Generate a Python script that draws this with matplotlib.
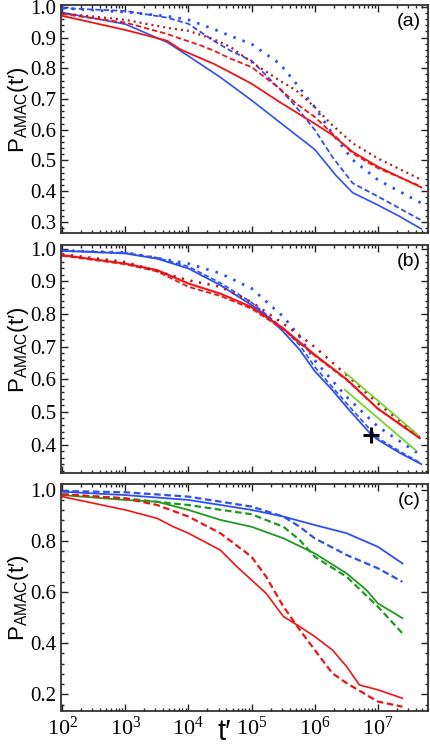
import numpy as np
import matplotlib
matplotlib.use("Agg")
import matplotlib.pyplot as plt
from matplotlib.ticker import MultipleLocator, FormatStrFormatter, LogLocator, NullFormatter

plt.rcParams['mathtext.fontset'] = 'custom'
plt.rcParams['mathtext.rm'] = 'Liberation Serif'
plt.rcParams['mathtext.sf'] = 'Liberation Sans'
plt.rcParams['mathtext.it'] = 'Liberation Serif:italic'

BLUE = '#2f50f0'
RED = '#f01515'
DKRED = '#b51a1a'
LIME = '#6ad61c'
GREEN = '#1f9a1f'

# ---- panel (a) ----
a_blue_solid_t = [1e2, 1e3, 4.6e3, 1e4, 3.2e4, 1e5, 3.2e5, 1e6, 2.2e6, 4e6, 1e7, 2.2e7, 4.9e7]
a_blue_solid_p = [0.982, 0.944, 0.885, 0.840, 0.771, 0.696, 0.615, 0.536, 0.450, 0.395, 0.355, 0.318, 0.277]
a_blue_dash_t = [1e2, 1e3, 4.6e3, 1e4, 2.5e4, 4.6e4, 1e5, 3.2e5, 5.1e5, 1e6, 1.9e6, 4e6, 1e7, 4.9e7]
a_blue_dash_p = [0.996, 0.987, 0.965, 0.945, 0.890, 0.858, 0.825, 0.720, 0.674, 0.600, 0.512, 0.426, 0.383, 0.305]
a_blue_dot_t = [1e2, 1e3, 4.6e3, 1e4, 2.5e4, 4.6e4, 1e5, 2.8e5, 5.1e5, 1e6, 1.9e6, 4e6, 1e7, 4.9e7]
a_blue_dot_p = [0.996, 0.983, 0.970, 0.958, 0.928, 0.906, 0.879, 0.815, 0.750, 0.674, 0.588, 0.502, 0.437, 0.361]
a_red_solid_t = [1e2, 1e3, 4.6e3, 7.4e3, 1e4, 2.5e4, 4.6e4, 1e5, 2.8e5, 1e6, 1.9e6, 4e6, 1e7, 4.9e7]
a_red_solid_p = [0.971, 0.925, 0.890, 0.862, 0.850, 0.815, 0.787, 0.750, 0.690, 0.620, 0.583, 0.528, 0.480, 0.412]
a_red_dash_t = [1e2, 1e3, 4.6e3, 7.4e3, 1.5e4, 2.5e4, 4.6e4, 1e5, 2.8e5, 5.1e5, 1e6, 1.9e6, 4e6, 1e7, 4.9e7]
a_red_dash_p = [0.977, 0.949, 0.912, 0.897, 0.876, 0.858, 0.832, 0.804, 0.734, 0.685, 0.642, 0.588, 0.523, 0.475, 0.415]
a_red_dot_t = [1e2, 1e3, 4.6e3, 1e4, 2.5e4, 4.6e4, 1e5, 2.8e5, 5.1e5, 1e6, 1.9e6, 4e6, 1e7, 4.9e7]
a_red_dot_p = [0.979, 0.958, 0.932, 0.922, 0.895, 0.870, 0.820, 0.760, 0.728, 0.674, 0.615, 0.556, 0.507, 0.437]

# ---- panel (b) ----
b_blue_solid_t = [1e2, 1e3, 3.2e3, 1e4, 3.2e4, 1e5, 1.7e5, 3.2e5, 5.8e5, 1e6, 1.9e6, 3.2e6, 7.9e6, 1e7, 2.2e7, 4.9e7]
b_blue_solid_p = [0.993, 0.985, 0.969, 0.939, 0.888, 0.827, 0.796, 0.745, 0.690, 0.625, 0.567, 0.515, 0.430, 0.415, 0.375, 0.340]
b_blue_dash_t = [1e2, 1e3, 3.2e3, 1e4, 3.2e4, 1e5, 3.2e5, 5.8e5, 1e6, 3.2e6, 1e7, 2.2e7, 4.9e7]
b_blue_dash_p = [0.994, 0.987, 0.972, 0.945, 0.895, 0.835, 0.755, 0.704, 0.638, 0.526, 0.420, 0.380, 0.342]
b_blue_dot_t = [1e2, 1e3, 1e4, 3.2e4, 1e5, 3.2e5, 5.8e5, 1e6, 3.2e6, 1e7, 4.2e7]
b_blue_dot_p = [0.994, 0.988, 0.954, 0.924, 0.878, 0.791, 0.730, 0.658, 0.546, 0.455, 0.375]
b_red_solid_t = [1e2, 1e3, 3.2e3, 1e4, 3.2e4, 1e5, 3.2e5, 1e6, 3.2e6, 1e7, 4.6e7]
b_red_solid_p = [0.980, 0.954, 0.934, 0.893, 0.862, 0.821, 0.755, 0.675, 0.600, 0.510, 0.420]
b_red_dash_t = [1e2, 1e3, 3.2e3, 1e4, 3.2e4, 1e5, 3.2e5, 1e6, 3.2e6, 1e7, 4.6e7]
b_red_dash_p = [0.978, 0.952, 0.930, 0.883, 0.855, 0.816, 0.752, 0.672, 0.598, 0.510, 0.420]
b_red_dot_t = [1e2, 1e3, 1e4, 3.2e4, 1e5, 3.2e5, 1e6, 3.2e6, 1e7, 4.6e7]
b_red_dot_p = [0.983, 0.959, 0.903, 0.883, 0.836, 0.770, 0.699, 0.613, 0.526, 0.424]
b_fit_upper_t = [3.0e6, 4.35e7]
b_fit_upper_p = [0.621, 0.429]
b_fit_lower_t = [3.0e6, 4.0e7]
b_fit_lower_p = [0.568, 0.382]
b_cross_t = [7.9e6]
b_cross_p = [0.430]

# ---- panel (c) ----
c_blue_solid_t = [1e2, 1e3, 1e4, 1e5, 3.2e5, 1e6, 3.2e6, 1e7, 2.45e7]
c_blue_solid_p = [0.992, 0.979, 0.960, 0.921, 0.895, 0.862, 0.830, 0.777, 0.712]
c_blue_dash_t = [1e2, 1e3, 1e4, 1e5, 3.2e5, 5.8e5, 1e6, 3.2e6, 1e7, 2.45e7]
c_blue_dash_p = [0.995, 0.990, 0.973, 0.934, 0.895, 0.855, 0.810, 0.745, 0.693, 0.640]
c_green_solid_t = [1e2, 1e3, 3.2e3, 1e4, 3.2e4, 1e5, 3.2e5, 1e6, 3.2e6, 6.6e6, 1e7, 2.45e7]
c_green_solid_p = [0.979, 0.960, 0.953, 0.921, 0.882, 0.855, 0.810, 0.751, 0.673, 0.608, 0.556, 0.498]
c_green_dash_t = [1e2, 1e3, 1e4, 1e5, 3.2e5, 5.8e5, 1e6, 3.2e6, 1e7, 2.45e7]
c_green_dash_p = [0.982, 0.966, 0.940, 0.904, 0.855, 0.803, 0.738, 0.660, 0.543, 0.439]
c_red_solid_t = [1e2, 1e3, 3.2e3, 5.8e3, 1e4, 3.2e4, 5.8e4, 1e5, 1.7e5, 3.2e5, 5.8e5, 1e6,
                 1.9e6, 3.2e6, 5.1e6, 1e7, 2.45e7]
c_red_solid_p = [0.973, 0.921, 0.888, 0.855, 0.830, 0.764, 0.700, 0.647, 0.595, 0.504, 0.465, 0.426,
                 0.374, 0.309, 0.237, 0.218, 0.185]
c_red_dash_t = [1e2, 1e3, 3.2e3, 1e4, 3.2e4, 1e5, 1.7e5, 3.2e5, 5.8e5, 1e6, 1.9e6, 3.2e6, 1e7, 2.45e7]
c_red_dash_p = [0.982, 0.966, 0.940, 0.895, 0.830, 0.738, 0.660, 0.543, 0.452, 0.374, 0.283, 0.244, 0.172, 0.152]

DASH = (0, (3.0, 1.6))
DOT = (0, (0.9, 2.6))
SMALLDOT = (0, (0.9, 1.8))

fig = plt.figure(figsize=(4.30, 7.49), dpi=100)
left, width = 0.142, 0.853
ax_a = fig.add_axes([left, 0.689, width, 0.304])
ax_b = fig.add_axes([left, 0.3685, width, 0.304])
ax_c = fig.add_axes([left, 0.0507, width, 0.303])

# (a)
ax_a.plot(a_blue_solid_t, a_blue_solid_p, color=BLUE, lw=1.2)
ax_a.plot(a_blue_dash_t, a_blue_dash_p, color=BLUE, lw=1.3, ls=DASH)
ax_a.plot(a_blue_dot_t, a_blue_dot_p, color=BLUE, lw=2.0, ls=DOT)
ax_a.plot(a_red_solid_t, a_red_solid_p, color=RED, lw=1.3)
ax_a.plot(a_red_dash_t, a_red_dash_p, color=RED, lw=1.3, ls=DASH)
ax_a.plot(a_red_dot_t, a_red_dot_p, color=DKRED, lw=1.6, ls=SMALLDOT)

# (b)
ax_b.plot(b_blue_solid_t, b_blue_solid_p, color=BLUE, lw=1.3)
ax_b.plot(b_blue_dash_t, b_blue_dash_p, color=BLUE, lw=1.2, ls=DASH)
ax_b.plot(b_blue_dot_t, b_blue_dot_p, color=BLUE, lw=2.0, ls=DOT)
ax_b.plot(b_red_solid_t, b_red_solid_p, color=RED, lw=1.5)
ax_b.plot(b_red_dash_t, b_red_dash_p, color=RED, lw=1.3, ls=DASH)
ax_b.plot(b_red_dot_t, b_red_dot_p, color=DKRED, lw=1.8, ls=DOT)
ax_b.plot(b_fit_upper_t, b_fit_upper_p, color=LIME, lw=1.2)
ax_b.plot(b_fit_lower_t, b_fit_lower_p, color=LIME, lw=1.2)
ax_b.plot(b_cross_t, b_cross_p, marker='+', color='black', ms=12, mew=2.2, ls='none')

# (c)
ax_c.plot(c_blue_solid_t, c_blue_solid_p, color=BLUE, lw=1.3)
ax_c.plot(c_blue_dash_t, c_blue_dash_p, color=BLUE, lw=1.6, ls=DASH)
ax_c.plot(c_green_solid_t, c_green_solid_p, color=GREEN, lw=1.3)
ax_c.plot(c_green_dash_t, c_green_dash_p, color=GREEN, lw=1.6, ls=DASH)
ax_c.plot(c_red_solid_t, c_red_solid_p, color=RED, lw=1.2)
ax_c.plot(c_red_dash_t, c_red_dash_p, color=RED, lw=1.6, ls=DASH)

ylims = [(0.264, 1.0055), (0.313, 1.01), (0.135, 1.022)]
ymaj = [0.1, 0.1, 0.2]
tags = ['(a)', '(b)', '(c)']
lab_y = [0.54, 0.54, 0.5]
ylab = '$\\mathsf{P_{AMAC}(t\u2032)}$'
for ax, yl, step, tag, ly in zip([ax_a, ax_b, ax_c], ylims, ymaj, tags, lab_y):
    ax.set_xscale('log')
    ax.set_xlim(96, 6.2e7)
    ax.set_ylim(*yl)
    ax.yaxis.set_major_locator(MultipleLocator(step))
    ax.yaxis.set_minor_locator(MultipleLocator(step / 5))
    ax.yaxis.set_major_formatter(FormatStrFormatter('%.1f'))
    ax.xaxis.set_major_locator(LogLocator(base=10, numticks=12))
    ax.xaxis.set_minor_locator(LogLocator(base=10, subs=np.arange(2, 10), numticks=12))
    ax.xaxis.set_minor_formatter(NullFormatter())
    ax.tick_params(which='both', direction='in', top=True, right=True,
                   color='#222222', width=1.0)
    ax.tick_params(which='major', length=5)
    ax.tick_params(which='minor', length=2.5)
    for lab in ax.get_yticklabels():
        lab.set_fontfamily('Liberation Serif')
        lab.set_fontsize(15)
    for sp in ax.spines.values():
        sp.set_color('#333333')
        sp.set_linewidth(1.3)
    ax.set_ylabel(ylab, fontsize=16)
    ax.yaxis.set_label_coords(-0.082, ly)
    ax.text(0.98, 0.965, tag, transform=ax.transAxes, ha='right', va='top',
            fontsize=14, family='Liberation Sans')

for ax in (ax_a, ax_b):
    ax.tick_params(labelbottom=False)

for lab in ax_c.get_xticklabels():
    lab.set_fontfamily('Liberation Serif')
    lab.set_fontsize(16)
ax_c.tick_params(axis='x', pad=4)
ax_c.set_xlabel('t\u2032', fontsize=21, family='Liberation Sans')
ax_c.xaxis.set_label_coords(0.445, -0.03)

fig.savefig('out.png', dpi=100)
